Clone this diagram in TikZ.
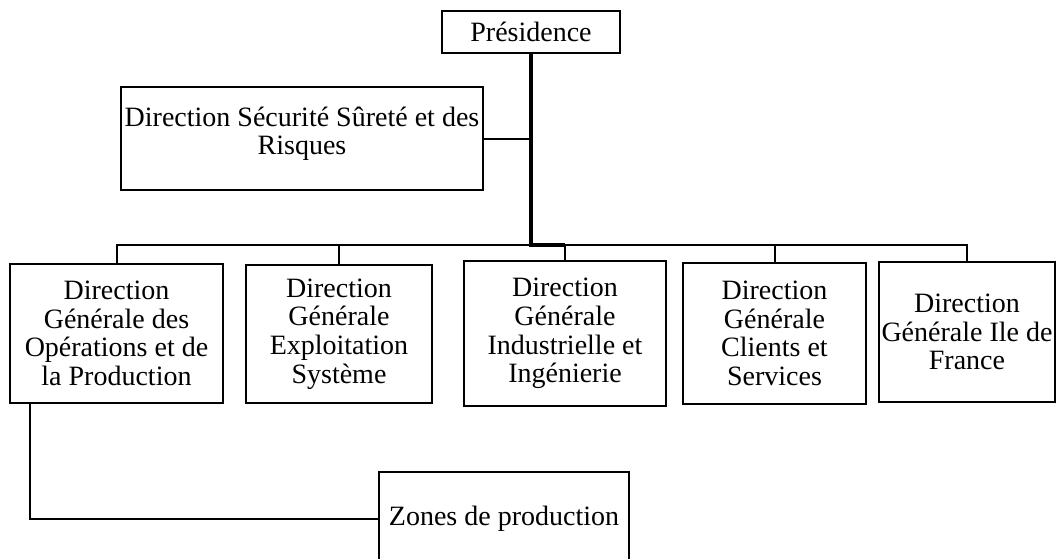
\documentclass[tikz,border=0pt]{standalone}
\usepackage{fontspec}
\setmainfont{Liberation Serif}
\usetikzlibrary{positioning}

\begin{document}
\begin{tikzpicture}[x=0.75pt, y=-0.75pt,
    dirBox/.style={draw, line width=1.6pt, align=center, inner sep=0pt,
        font=\fontsize{21}{21.5}\selectfont},
    link/.style={line width=1.5pt},
    mainLink/.style={line width=2.8pt}]

\useasboundingbox (0,0) rectangle (1056,558);

% top level
\node[dirBox, minimum width=133.5pt, minimum height=31.5pt] (pres) at (531,32) {Présidence};

\node[dirBox, minimum width=271.5pt, minimum height=77.25pt] (dss) at (302,138.5)
{Direction Sécurité Sûreté et des\\ Risques\\[-10pt]};

% directions generales
\node[dirBox, minimum width=159.75pt, minimum height=104.25pt] (dgop) at (116.5,333.5)
{Direction\\ Générale des\\ Opérations et de\\ la Production};
\node[dirBox, minimum width=139.5pt, minimum height=103.5pt] (dgex) at (339,334)
{Direction\\ Générale\\ Exploitation\\ Système};
\node[dirBox, minimum width=151.5pt, minimum height=108.75pt] (dgin) at (565,333.5)
{Direction\\ Générale\\ Industrielle et\\ Ingénierie};
\node[dirBox, minimum width=137.25pt, minimum height=105.75pt] (dgcl) at (774.5,333.5)
{Direction\\ Générale\\ Clients et\\ Services};
\node[dirBox, minimum width=132pt, minimum height=105pt] (dgif) at (967,332)
{Direction\\ Générale Ile de\\ France};

\node[dirBox, minimum width=187.5pt, minimum height=69.75pt] (zp) at (504,518.5)
{Zones de production};

% links
\coordinate (hub) at (531,245);
\coordinate (jog) at (565,245);

\draw[mainLink] (pres.south) -- (hub) -- (jog);
\draw[link] (dss.east) -- (dss.east -| hub);

\draw[link] (dgop.north) |- (dgif.north |- hub) -- (dgif.north);
\foreach \d in {dgex,dgin,dgcl}
\draw[link] (\d.north) -- (\d.north |- hub);

\draw[link] (dgop.south west) ++(21,0) |- (zp.west);

\end{tikzpicture}
\end{document}
